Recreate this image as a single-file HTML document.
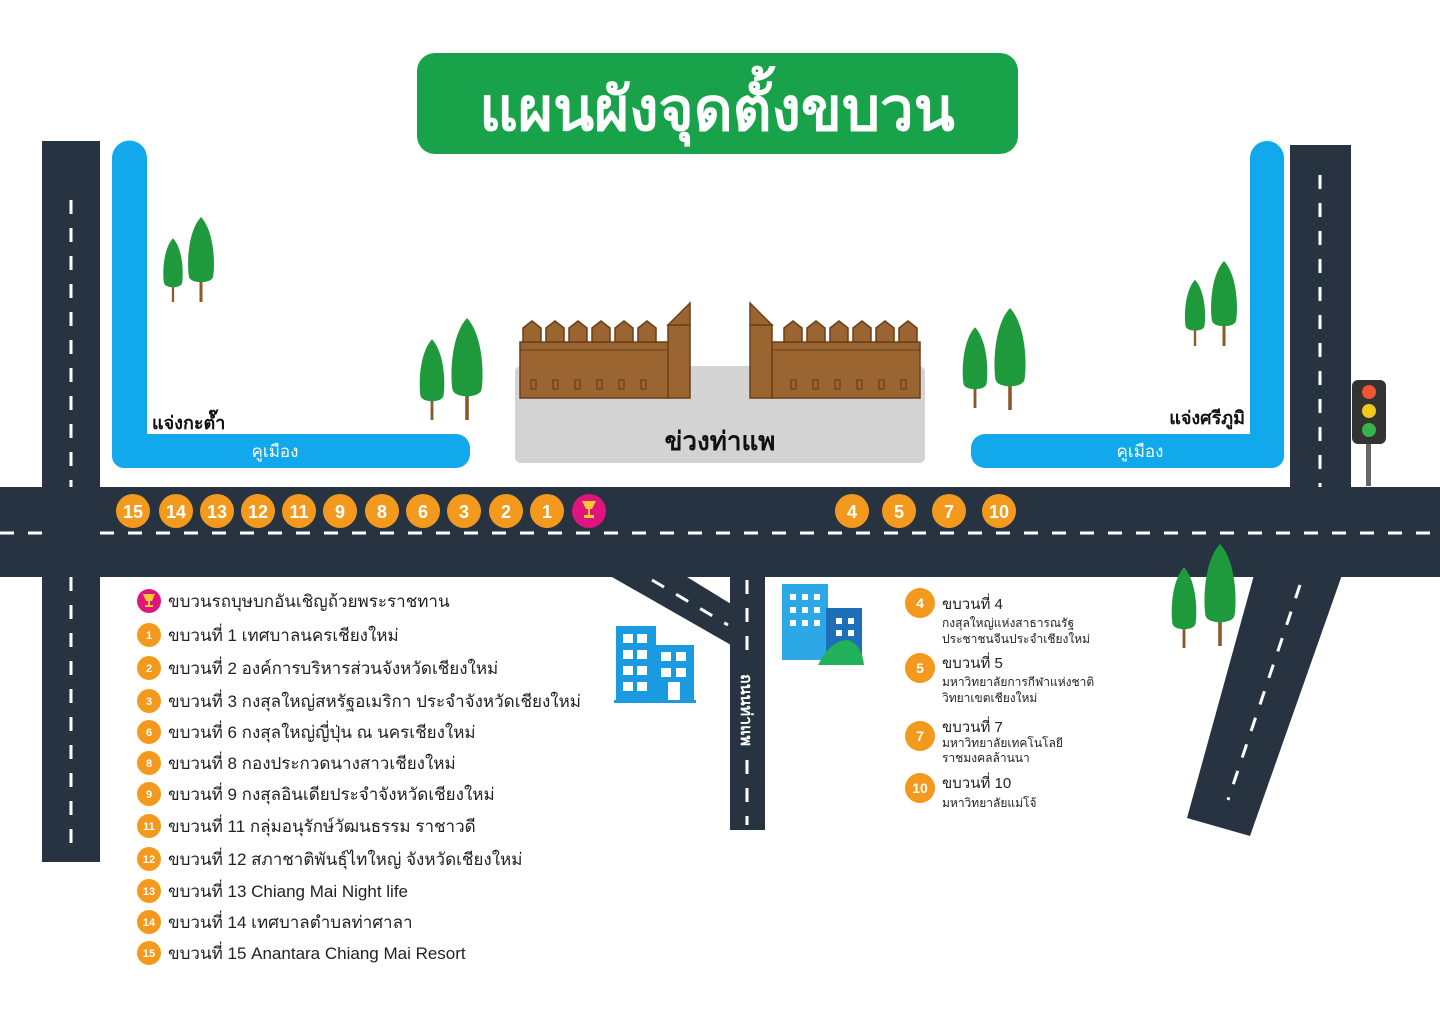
<!DOCTYPE html>
<html><head><meta charset="utf-8"><style>
html,body{margin:0;padding:0;background:#fff;}
svg{display:block;}
text{font-family:"Liberation Sans","DejaVu Sans",sans-serif;}
</style></head><body>
<svg width="1440" height="1018" viewBox="0 0 1440 1018" xmlns="http://www.w3.org/2000/svg">
<defs>
<g id="tree"><line x1="0" y1="0" x2="0" y2="-20" stroke="#8b5a2b" stroke-width="3"/><path d="M0,-85 C14,-70 14,-35 12,-25 C10,-18 -10,-18 -12,-25 C-14,-35 -14,-70 0,-85Z" fill="#1e9a3c"/></g>
</defs>
<!-- title -->
<rect x="417" y="53" width="601" height="101" rx="18" fill="#18a24a"/>
<text x="717" y="130" text-anchor="middle" font-size="60" font-weight="bold" fill="#fff">แผนผังจุดตั้งขบวน</text>

<!-- canals -->
<path d="M112,158 a17,17 0 0 1 35,0 V434 H456 a14,14 0 0 1 14,14 v6 a14,14 0 0 1 -14,14 H124 a12,12 0 0 1 -12,-12Z" fill="#11a9ec"/>
<path d="M1250,158 a17,17 0 0 1 34,0 V456 a12,12 0 0 1 -12,12 H985 a14,14 0 0 1 -14,-14 v-6 a14,14 0 0 1 14,-14 H1250Z" fill="#11a9ec"/>
<text x="275" y="457" text-anchor="middle" font-size="17" fill="#fff">คูเมือง</text>
<text x="1140" y="457" text-anchor="middle" font-size="17" fill="#fff">คูเมือง</text>
<text x="152" y="429" font-size="18" font-weight="bold" fill="#111">แจ่งกะต๊ำ</text>
<text x="1245" y="424" text-anchor="end" font-size="18" font-weight="bold" fill="#111">แจ่งศรีภูมิ</text>

<!-- gray plaza -->
<rect x="515" y="366" width="410" height="97" rx="6" fill="#d3d3d3"/>
<text x="720" y="450" text-anchor="middle" font-size="26" font-weight="bold" fill="#111">ข่วงท่าแพ</text>

<!-- walls -->
<g fill="#9a6531" stroke="#6b3f18" stroke-width="1.5">
<rect x="520" y="342" width="150" height="56"/>
<rect x="668" y="325" width="22" height="73"/>
<path d="M668,325 L690,303 V325Z"/>
<rect x="750" y="325" width="22" height="73"/>
<path d="M750,303 L772,325 H750Z"/>
<rect x="772" y="342" width="148" height="56"/>
</g>
<g fill="#9a6531" stroke="#6b3f18" stroke-width="1.5">
<path d="M523,342 v-14 l9,-7 l9,7 v14Z"/><path d="M546,342 v-14 l9,-7 l9,7 v14Z"/><path d="M569,342 v-14 l9,-7 l9,7 v14Z"/><path d="M592,342 v-14 l9,-7 l9,7 v14Z"/><path d="M615,342 v-14 l9,-7 l9,7 v14Z"/><path d="M638,342 v-14 l9,-7 l9,7 v14Z"/>
<path d="M784,342 v-14 l9,-7 l9,7 v14Z"/><path d="M807,342 v-14 l9,-7 l9,7 v14Z"/><path d="M830,342 v-14 l9,-7 l9,7 v14Z"/><path d="M853,342 v-14 l9,-7 l9,7 v14Z"/><path d="M876,342 v-14 l9,-7 l9,7 v14Z"/><path d="M899,342 v-14 l9,-7 l9,7 v14Z"/>
</g>
<line x1="520" y1="350" x2="668" y2="350" stroke="#6b3f18"/><line x1="772" y1="350" x2="920" y2="350" stroke="#6b3f18"/>
<g fill="none" stroke="#6b3f18" stroke-width="1.2">
<rect x="531" y="380" width="5" height="9"/><rect x="553" y="380" width="5" height="9"/><rect x="575" y="380" width="5" height="9"/><rect x="597" y="380" width="5" height="9"/><rect x="619" y="380" width="5" height="9"/><rect x="641" y="380" width="5" height="9"/>
<rect x="791" y="380" width="5" height="9"/><rect x="813" y="380" width="5" height="9"/><rect x="835" y="380" width="5" height="9"/><rect x="857" y="380" width="5" height="9"/><rect x="879" y="380" width="5" height="9"/><rect x="901" y="380" width="5" height="9"/>
</g>

<!-- trees -->
<use href="#tree" x="173" y="302" transform="translate(173,302) scale(0.75) translate(-173,-302)"/>
<use href="#tree" x="201" y="302"/>
<use href="#tree" x="432" y="420" transform="translate(432,420) scale(0.95) translate(-432,-420)"/>
<use href="#tree" x="467" y="420" transform="translate(467,420) scale(1.2) translate(-467,-420)"/>
<use href="#tree" x="975" y="408" transform="translate(975,408) scale(0.95) translate(-975,-408)"/>
<use href="#tree" x="1010" y="410" transform="translate(1010,410) scale(1.2) translate(-1010,-410)"/>
<use href="#tree" x="1195" y="346" transform="translate(1195,346) scale(0.78) translate(-1195,-346)"/>
<use href="#tree" x="1224" y="346"/>

<!-- roads -->
<g fill="#273341">
<rect x="42" y="141" width="58" height="721"/>
<rect x="1290" y="145" width="61" height="345"/>
<rect x="0" y="487" width="1440" height="90"/>
<polygon points="612,577 687,577 731,604 731,645"/>
<rect x="730" y="577" width="35" height="253"/>
<polygon points="1254,575 1342,575 1250,836 1187,818"/>
</g>
<g stroke="#fff" stroke-width="3" stroke-dasharray="14,14" fill="none">
<line x1="71" y1="200" x2="71" y2="487"/>
<line x1="71" y1="577" x2="71" y2="850"/>
<line x1="1320" y1="175" x2="1320" y2="487"/>
<line x1="100" y1="533" x2="1440" y2="533"/>
<line x1="747" y1="580" x2="747" y2="660"/>
<line x1="747" y1="760" x2="747" y2="825"/>
<line x1="652" y1="580" x2="728" y2="625"/>
<line x1="1300" y1="585" x2="1228" y2="800"/>
</g>
<line x1="0" y1="533" x2="42" y2="533" stroke="#fff" stroke-width="3" stroke-dasharray="14,14"/>
<text transform="translate(741,710) rotate(90)" text-anchor="middle" font-size="16" font-weight="bold" fill="#fff">ถนนท่าแพ</text>

<use href="#tree" x="1184" y="648" transform="translate(1184,648) scale(0.95) translate(-1184,-648)"/>
<use href="#tree" x="1220" y="646" transform="translate(1220,646) scale(1.2) translate(-1220,-646)"/>

<!-- traffic light -->
<rect x="1366" y="440" width="5" height="46" fill="#666"/>
<rect x="1352" y="380" width="34" height="64" rx="6" fill="#333"/>
<circle cx="1369" cy="392" r="7" fill="#e53"/>
<circle cx="1369" cy="411" r="7" fill="#f2c81d"/>
<circle cx="1369" cy="430" r="7" fill="#36b34a"/>

<!-- buildings -->
<g>
<rect x="616" y="626" width="40" height="76" fill="#1a9be0"/>
<rect x="654" y="645" width="40" height="57" fill="#1a9be0"/>
<rect x="614" y="700" width="82" height="3" fill="#1a9be0"/>
<g fill="#fff"><rect x="623" y="634" width="10" height="9"/><rect x="637" y="634" width="10" height="9"/><rect x="623" y="650" width="10" height="9"/><rect x="637" y="650" width="10" height="9"/><rect x="623" y="666" width="10" height="9"/><rect x="637" y="666" width="10" height="9"/><rect x="623" y="682" width="10" height="9"/><rect x="637" y="682" width="10" height="9"/>
<rect x="661" y="652" width="10" height="9"/><rect x="676" y="652" width="10" height="9"/><rect x="661" y="668" width="10" height="9"/><rect x="676" y="668" width="10" height="9"/><rect x="668" y="682" width="12" height="18"/></g>
<rect x="782" y="584" width="46" height="76" fill="#2ca8e6"/>
<rect x="826" y="608" width="36" height="52" fill="#1f6fb8"/>
<g fill="#fff"><rect x="790" y="594" width="6" height="6"/><rect x="802" y="594" width="6" height="6"/><rect x="814" y="594" width="6" height="6"/><rect x="790" y="607" width="6" height="6"/><rect x="802" y="607" width="6" height="6"/><rect x="814" y="607" width="6" height="6"/><rect x="790" y="620" width="6" height="6"/><rect x="802" y="620" width="6" height="6"/><rect x="814" y="620" width="6" height="6"/><rect x="836" y="618" width="6" height="6"/><rect x="848" y="618" width="6" height="6"/><rect x="836" y="630" width="6" height="6"/><rect x="848" y="630" width="6" height="6"/></g>
<path d="M818,665 Q830,640 848,640 Q862,645 864,665Z" fill="#21b15a"/>
</g>

<!-- road markers -->
<g fill="#f39a1e">
<circle cx="133" cy="511" r="17"/><circle cx="176" cy="511" r="17"/><circle cx="217" cy="511" r="17"/><circle cx="258" cy="511" r="17"/><circle cx="299" cy="511" r="17"/><circle cx="340" cy="511" r="17"/><circle cx="382" cy="511" r="17"/><circle cx="423" cy="511" r="17"/><circle cx="464" cy="511" r="17"/><circle cx="506" cy="511" r="17"/><circle cx="547" cy="511" r="17"/>
<circle cx="852" cy="511" r="17"/><circle cx="899" cy="511" r="17"/><circle cx="949" cy="511" r="17"/><circle cx="999" cy="511" r="17"/>
</g>
<circle cx="589" cy="511" r="17" fill="#e0147e"/>
<path d="M582,501 h14 l-4,8 h-2 v6 h4 v3 h-10 v-3 h4 v-6 h-2Z" fill="#f7c830"/>
<g font-size="18" font-weight="bold" fill="#fff" text-anchor="middle">
<text x="133" y="518">15</text><text x="176" y="518">14</text><text x="217" y="518">13</text><text x="258" y="518">12</text><text x="299" y="518">11</text><text x="340" y="518">9</text><text x="382" y="518">8</text><text x="423" y="518">6</text><text x="464" y="518">3</text><text x="506" y="518">2</text><text x="547" y="518">1</text>
<text x="852" y="518">4</text><text x="899" y="518">5</text><text x="949" y="518">7</text><text x="999" y="518">10</text>
</g>

<!-- legend left -->
<circle cx="149" cy="601" r="12" fill="#e0147e"/>
<path d="M143,594 h12 l-3,7 h-2 v4 h3 v2 h-8 v-2 h3 v-4 h-2Z" fill="#f7c830"/>
<g fill="#f39a1e">
<circle cx="149" cy="635" r="12"/><circle cx="149" cy="668" r="12"/><circle cx="149" cy="701" r="12"/><circle cx="149" cy="732" r="12"/><circle cx="149" cy="763" r="12"/><circle cx="149" cy="794" r="12"/><circle cx="149" cy="826" r="12"/><circle cx="149" cy="859" r="12"/><circle cx="149" cy="891" r="12"/><circle cx="149" cy="922" r="12"/><circle cx="149" cy="953" r="12"/>
</g>
<g font-size="11" font-weight="bold" fill="#fff" text-anchor="middle">
<text x="149" y="639">1</text><text x="149" y="672">2</text><text x="149" y="705">3</text><text x="149" y="736">6</text><text x="149" y="767">8</text><text x="149" y="798">9</text><text x="149" y="830">11</text><text x="149" y="863">12</text><text x="149" y="895">13</text><text x="149" y="926">14</text><text x="149" y="957">15</text>
</g>
<g font-size="17" fill="#222">
<text x="168" y="607">ขบวนรถบุษบกอันเชิญถ้วยพระราชทาน</text>
<text x="168" y="641">ขบวนที่ 1 เทศบาลนครเชียงใหม่</text>
<text x="168" y="674">ขบวนที่ 2 องค์การบริหารส่วนจังหวัดเชียงใหม่</text>
<text x="168" y="707">ขบวนที่ 3 กงสุลใหญ่สหรัฐอเมริกา ประจำจังหวัดเชียงใหม่</text>
<text x="168" y="738">ขบวนที่ 6 กงสุลใหญ่ญี่ปุ่น ณ นครเชียงใหม่</text>
<text x="168" y="769">ขบวนที่ 8 กองประกวดนางสาวเชียงใหม่</text>
<text x="168" y="800">ขบวนที่ 9 กงสุลอินเดียประจำจังหวัดเชียงใหม่</text>
<text x="168" y="832">ขบวนที่ 11 กลุ่มอนุรักษ์วัฒนธรรม ราชาวดี</text>
<text x="168" y="865">ขบวนที่ 12 สภาชาติพันธุ์ไทใหญ่ จังหวัดเชียงใหม่</text>
<text x="168" y="897">ขบวนที่ 13 Chiang Mai Night life</text>
<text x="168" y="928">ขบวนที่ 14 เทศบาลตำบลท่าศาลา</text>
<text x="168" y="959">ขบวนที่ 15 Anantara Chiang Mai Resort</text>
</g>

<!-- legend right -->
<g fill="#f39a1e"><circle cx="920" cy="603" r="15"/><circle cx="920" cy="668" r="15"/><circle cx="920" cy="736" r="15"/><circle cx="920" cy="788" r="15"/></g>
<g font-size="14" font-weight="bold" fill="#fff" text-anchor="middle"><text x="920" y="608">4</text><text x="920" y="673">5</text><text x="920" y="741">7</text><text x="920" y="793">10</text></g>
<g fill="#222">
<text x="942" y="609" font-size="15">ขบวนที่ 4</text>
<text x="942" y="627" font-size="12">กงสุลใหญ่แห่งสาธารณรัฐ</text>
<text x="942" y="643" font-size="12">ประชาชนจีนประจำเชียงใหม่</text>
<text x="942" y="668" font-size="15">ขบวนที่ 5</text>
<text x="942" y="686" font-size="12">มหาวิทยาลัยการกีฬาแห่งชาติ</text>
<text x="942" y="702" font-size="12">วิทยาเขตเชียงใหม่</text>
<text x="942" y="732" font-size="15">ขบวนที่ 7</text>
<text x="942" y="747" font-size="12">มหาวิทยาลัยเทคโนโลยี</text>
<text x="942" y="762" font-size="12">ราชมงคลล้านนา</text>
<text x="942" y="788" font-size="15">ขบวนที่ 10</text>
<text x="942" y="807" font-size="12">มหาวิทยาลัยแม่โจ้</text>
</g>
</svg>
</body></html>
